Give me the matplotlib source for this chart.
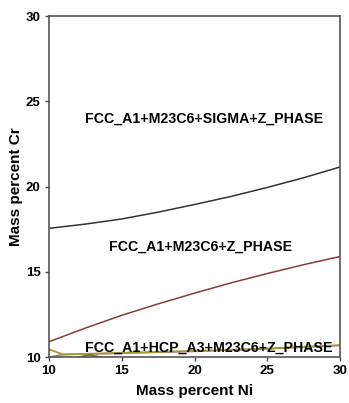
import matplotlib
matplotlib.use("Agg")
import matplotlib.pyplot as plt

plt.rcParams["font.family"] = ["Liberation Sans", "DejaVu Sans"]
plt.rcParams["font.weight"] = "bold"

# phase boundaries (Ni, Cr in mass percent)
sigma_ni = [10, 12.5, 15, 17.5, 20, 22.5, 25, 27.5, 30]
sigma_cr = [17.55, 17.8, 18.1, 18.5, 18.95, 19.42, 19.95, 20.52, 21.15]

hcp_ni = [10, 12.5, 15, 17.5, 20, 22.5, 25, 27.5, 30]
hcp_cr = [10.9, 11.7, 12.45, 13.12, 13.75, 14.35, 14.9, 15.42, 15.9]

low_ni = [10, 11, 15, 20, 25, 30]
low_cr = [10.45, 10.15, 10.25, 10.36, 10.5, 10.7]

pink_ni = [10, 11, 15, 20, 25, 30]
pink_cr = [10.0, 10.15, 10.22, 10.33, 10.48, 10.68]

bump_ni = [12.0, 12.8, 13.6]
bump_cr = [10.0, 10.12, 10.0]

region_labels = ["FCC_A1+M23C6+SIGMA+Z_PHASE",
                 "FCC_A1+M23C6+Z_PHASE",
                 "FCC_A1+HCP_A3+M23C6+Z_PHASE"]
region_ni = [20.65, 20.4, 21.0]
region_cr = [24.0, 16.45, 10.55]

fig = plt.figure(figsize=(3.49, 4.03), dpi=100)
ax = fig.add_axes([0.1404, 0.114, 0.834, 0.846])

ax.plot(pink_ni, pink_cr, color="#cc5c8a", lw=1.1)
ax.plot(low_ni, low_cr, color="#a09a28", lw=1.3)
ax.plot(bump_ni, bump_cr, color="#6b6a1e", lw=1.1)
ax.plot(hcp_ni, hcp_cr, color="#8b3a3a", lw=1.1)
ax.plot(sigma_ni, sigma_cr, color="#333333", lw=1.1)

for label, x, y in zip(region_labels, region_ni, region_cr):
    ax.text(x, y, label, ha="center", va="center", fontsize=10.2, fontweight="bold")

ax.set_xlim(10, 30)
ax.set_ylim(10, 30)
ax.set_xticks([10, 15, 20, 25, 30])
ax.set_yticks([10, 15, 20, 25, 30])
ax.tick_params(direction="out", length=3, width=1, colors="#444444",
               labelcolor="black", labelsize=9.5, pad=3)
for s in ax.spines.values():
    s.set_color("#555555")
    s.set_linewidth(1.2)

ax.set_xlabel("Mass percent Ni", fontsize=11, fontweight="bold", labelpad=5)
ax.set_ylabel("Mass percent Cr", fontsize=11, fontweight="bold", labelpad=2)

fig.savefig("out.png", dpi=100)
